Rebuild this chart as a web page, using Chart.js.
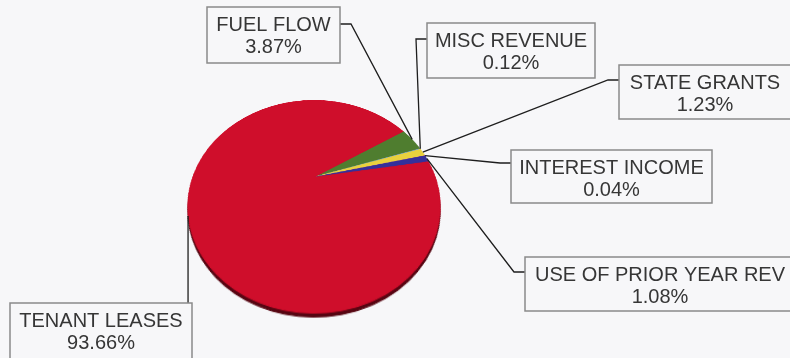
<!DOCTYPE html>
<html>
<head>
<meta charset="utf-8">
<title>Revenue Sources</title>
<script src="https://cdn.jsdelivr.net/npm/chart.js@4"></script>
<style>
  html, body { margin: 0; padding: 0; background: #f7f7f9; }
  #revenue-pie { display: block; background: #f7f7f9; }
</style>
</head>
<body>
<canvas id="revenue-pie" width="790" height="358"></canvas>
<script>
// Revenue sources, in clockwise order starting at the green slice
const categories = ['FUEL FLOW', 'MISC REVENUE', 'STATE GRANTS', 'INTEREST INCOME', 'USE OF PRIOR YEAR REV', 'TENANT LEASES'];
const shares = [3.87, 0.12, 1.23, 0.04, 1.08, 93.66];
const sliceColors = ['#4f7d2f', '#7fa8d0', '#e9d13e', '#9a3fa8', '#35309a', '#cf0e2b'];

const BG = '#f7f7f9';

// Perspective used to lay the flat pie back: centre, vertical and horizontal
// scale (px per unit radius) and the foreshortening factor
const TILT = { x0: 314, y0: 177, a: 98.3, b: -0.277, c: 121.5, depth: 4 };

// Callout boxes; stub = where the leader leaves the box
const calloutBoxes = [
    { x: 207, y: 7,   w: 133, h: 56, side: 'right', stubY: 24 },
    { x: 427, y: 23,  w: 168, h: 55, side: 'left',  stubY: 39 },
    { x: 619, y: 65,  w: 172, h: 54, side: 'left',  stubY: 80 },
    { x: 511, y: 150, w: 201, h: 53, side: 'left',  stubY: 163 },
    { x: 525, y: 257, w: 270, h: 54, side: 'left',  stubY: 272 },
    { x: 10,  y: 303, w: 182, h: 60, side: 'top' }
];

// Unit-circle point -> tilted screen point
function project(u, v) {
    const k = 1 + TILT.b * v;
    return { x: TILT.x0 + TILT.c * u / k, y: TILT.y0 + TILT.a * v / k };
}

// Redraws the flat pie row by row with perspective, plus a dark rim underneath
const tiltPlugin = {
    id: 'tilt',
    afterDatasetsDraw(chart) {
        const ctx = chart.ctx;
        const first = chart.getDatasetMeta(0).data[0];
        const R = first.outerRadius;
        const r = Math.ceil(R) + 2;
        const size = 2 * r;
        const sx = first.x - r, sy = first.y - r;

        const flat = document.createElement('canvas');
        flat.width = size;
        flat.height = size;
        flat.getContext('2d').drawImage(chart.canvas, sx, sy, size, size, 0, 0, size, size);
        ctx.clearRect(sx, sy, size, size);

        const { a, b } = TILT;
        const tTop = Math.floor(-a / (1 - b)) - 2;
        const tBottom = Math.ceil(a / (1 + b)) + 2;

        const pass = (offsetY) => {
            for (let t = tTop; t <= tBottom; t++) {
                const v = t / (a - b * t);
                if (Math.abs(v) > 1.03) continue;
                const k = 1 + b * v;
                const dvdt = a / Math.pow(a - b * t, 2);
                const srcH = Math.max(dvdt * R, 0.5);
                let srcY = r + v * R;
                srcY = Math.min(Math.max(srcY, 0), size - srcH);
                const half = TILT.c * (r / R) / k;
                ctx.drawImage(flat, 0, srcY, size, srcH,
                    TILT.x0 - half, TILT.y0 + t + offsetY, 2 * half, 1.3);
            }
        };

        ctx.save();
        ctx.imageSmoothingEnabled = true;
        ctx.filter = 'brightness(0.42)';
        pass(TILT.depth);
        ctx.filter = 'none';
        pass(0);
        ctx.restore();
    }
};

// Boxed labels with leader lines to each slice
const calloutPlugin = {
    id: 'callouts',
    afterDraw(chart) {
        const ctx = chart.ctx;
        const arcs = chart.getDatasetMeta(0).data;
        ctx.save();

        arcs.forEach((arc, i) => {
            const box = calloutBoxes[i];
            const mid = (arc.startAngle + arc.endAngle) / 2;
            const p = project(Math.cos(mid), Math.sin(mid));

            ctx.strokeStyle = '#1e1e1e';
            ctx.lineWidth = 1.3;
            ctx.beginPath();
            if (box.side === 'top') {
                ctx.moveTo(p.x, box.y);
                ctx.lineTo(p.x, p.y);
            } else {
                const edge = box.side === 'left' ? box.x : box.x + box.w;
                const knee = box.side === 'left' ? edge - 11 : edge + 11;
                ctx.moveTo(edge, box.stubY);
                ctx.lineTo(knee, box.stubY);
                ctx.lineTo(p.x, p.y);
            }
            ctx.stroke();

            ctx.fillStyle = BG;
            ctx.fillRect(box.x, box.y, box.w, box.h);
            ctx.strokeStyle = '#8a8a8a';
            ctx.lineWidth = 1.5;
            ctx.strokeRect(box.x, box.y, box.w, box.h);

            ctx.fillStyle = '#363636';
            ctx.font = '20px "Liberation Sans", Arial, sans-serif';
            ctx.textAlign = 'center';
            ctx.textBaseline = 'middle';
            const cx = box.x + box.w / 2;
            ctx.fillText(categories[i], cx, box.y + 18);
            ctx.fillText(shares[i].toFixed(2) + '%', cx, box.y + 40);
        });

        ctx.restore();
    }
};

new Chart(document.getElementById('revenue-pie'), {
    type: 'pie',
    data: {
        labels: categories,
        datasets: [{
            data: shares,
            backgroundColor: sliceColors,
            borderColor: sliceColors,
            borderWidth: 1
        }]
    },
    options: {
        responsive: false,
        animation: false,
        rotation: 57.7,
        layout: { padding: 10 },
        plugins: {
            legend: { display: false },
            tooltip: { enabled: false }
        }
    },
    plugins: [tiltPlugin, calloutPlugin]
});
</script>
</body>
</html>
